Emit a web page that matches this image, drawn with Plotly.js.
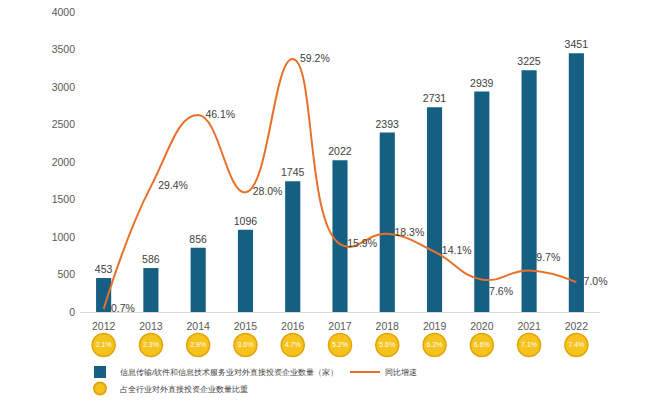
<!DOCTYPE html>
<html>
<head>
<meta charset="utf-8">
<script src="https://cdn.plot.ly/plotly-3.0.1.min.js"></script>
<style>
  html, body { margin: 0; padding: 0; background: #fff; }
  #plot { width: 660px; height: 403px; }
</style>
</head>
<body>
<div id="plot"></div>
<script>
const years = ['2012', '2013', '2014', '2015', '2016', '2017', '2018', '2019', '2020', '2021', '2022'];
const companyCount = [453, 586, 856, 1096, 1745, 2022, 2393, 2731, 2939, 3225, 3451];
const growthRate = [0.7, 29.4, 46.1, 28.0, 59.2, 15.9, 18.3, 14.1, 7.6, 9.7, 7.0];
const shareOfAll = [2.1, 2.3, 2.9, 3.6, 4.7, 5.2, 5.6, 6.2, 6.6, 7.1, 7.4];

const textColor = '#404040';
const tickColor = '#595959';
const fontFamily = 'Liberation Sans, Arial, sans-serif';

// bars: number of companies
const barTrace = {
    type: 'bar',
    name: '信息传输/软件和信息技术服务业对外直接投资企业数量（家）',
    x: years,
    y: companyCount,
    marker: { color: '#155f83' },
    text: companyCount.map(String),
    textposition: 'outside',
    constraintext: 'none',
    textfont: { color: textColor, size: 10.5 },
    cliponaxis: false,
    legend: 'legend',
    legendwidth: 220
};

// smoothed growth line on a hidden second axis
// (invisible markers only push the labels a little away from the line)
const lineTrace = {
    type: 'scatter',
    mode: 'lines+markers+text',
    name: '同比增速',
    x: years,
    y: growthRate,
    yaxis: 'y2',
    line: { color: '#e8702a', width: 2, shape: 'spline', smoothing: 1.3 },
    marker: { size: 10, color: 'rgba(0,0,0,0)' },
    text: growthRate.map(v => v.toFixed(1) + '%'),
    textposition: ['middle right', 'middle right', 'middle right', 'middle right', 'middle right',
                   'middle right', 'middle right', 'middle right', 'bottom right', 'top right', 'middle right'],
    textfont: { color: textColor, size: 10.5 },
    cliponaxis: false,
    legend: 'legend'
};

// yellow badges under the year labels
const shareTrace = {
    type: 'scatter',
    mode: 'markers+text',
    name: '占全行业对外直接投资企业数量比重',
    x: years,
    y: years.map(() => 0),
    yaxis: 'y3',
    marker: { color: '#f6c21c', size: 23, line: { color: '#e2a40a', width: 1.5 } },
    text: shareOfAll.map(v => v.toFixed(1) + '%'),
    textposition: 'middle center',
    textfont: { color: '#ffffff', size: 7 },
    cliponaxis: false,
    legend: 'legend2'
};

const layout = {
    width: 660,
    height: 403,
    margin: { l: 80, r: 60, t: 12, b: 0 },
    paper_bgcolor: '#ffffff',
    plot_bgcolor: 'rgba(0,0,0,0)',
    font: { family: fontFamily, color: textColor, size: 11 },
    bargap: 0.68,
    showlegend: true,
    xaxis: {
        type: 'category',
        range: [-0.5, 10.5],
        anchor: 'y',
        showgrid: false,
        showline: false,
        ticks: '',
        ticklabelstandoff: 6,
        tickfont: { size: 10.5, color: tickColor }
    },
    yaxis: {
        domain: [0.2327, 1],
        range: [0, 4000],
        dtick: 500,
        showgrid: false,
        zeroline: true,
        zerolinecolor: '#d9d9d9',
        zerolinewidth: 1,
        ticks: '',
        ticklabelstandoff: 4,
        tickfont: { size: 10.5, color: tickColor }
    },
    yaxis2: {
        overlaying: 'y',
        range: [0, 70.2],
        visible: false
    },
    yaxis3: {
        domain: [0, 0.2967],
        range: [-1, 1],
        anchor: 'x',
        visible: false
    },
    legend: {
        orientation: 'h',
        x: 0,
        y: 0.0793,
        xanchor: 'left',
        yanchor: 'middle',
        font: { size: 8, color: textColor },
        bgcolor: 'rgba(0,0,0,0)'
    },
    legend2: {
        orientation: 'h',
        x: 0,
        y: 0,
        xanchor: 'left',
        yanchor: 'bottom',
        itemsizing: 'constant',
        font: { size: 8, color: textColor },
        bgcolor: 'rgba(0,0,0,0)'
    }
};

Plotly.newPlot('plot', [barTrace, lineTrace, shareTrace], layout, { displayModeBar: false, staticPlot: true });
</script>
</body>
</html>
